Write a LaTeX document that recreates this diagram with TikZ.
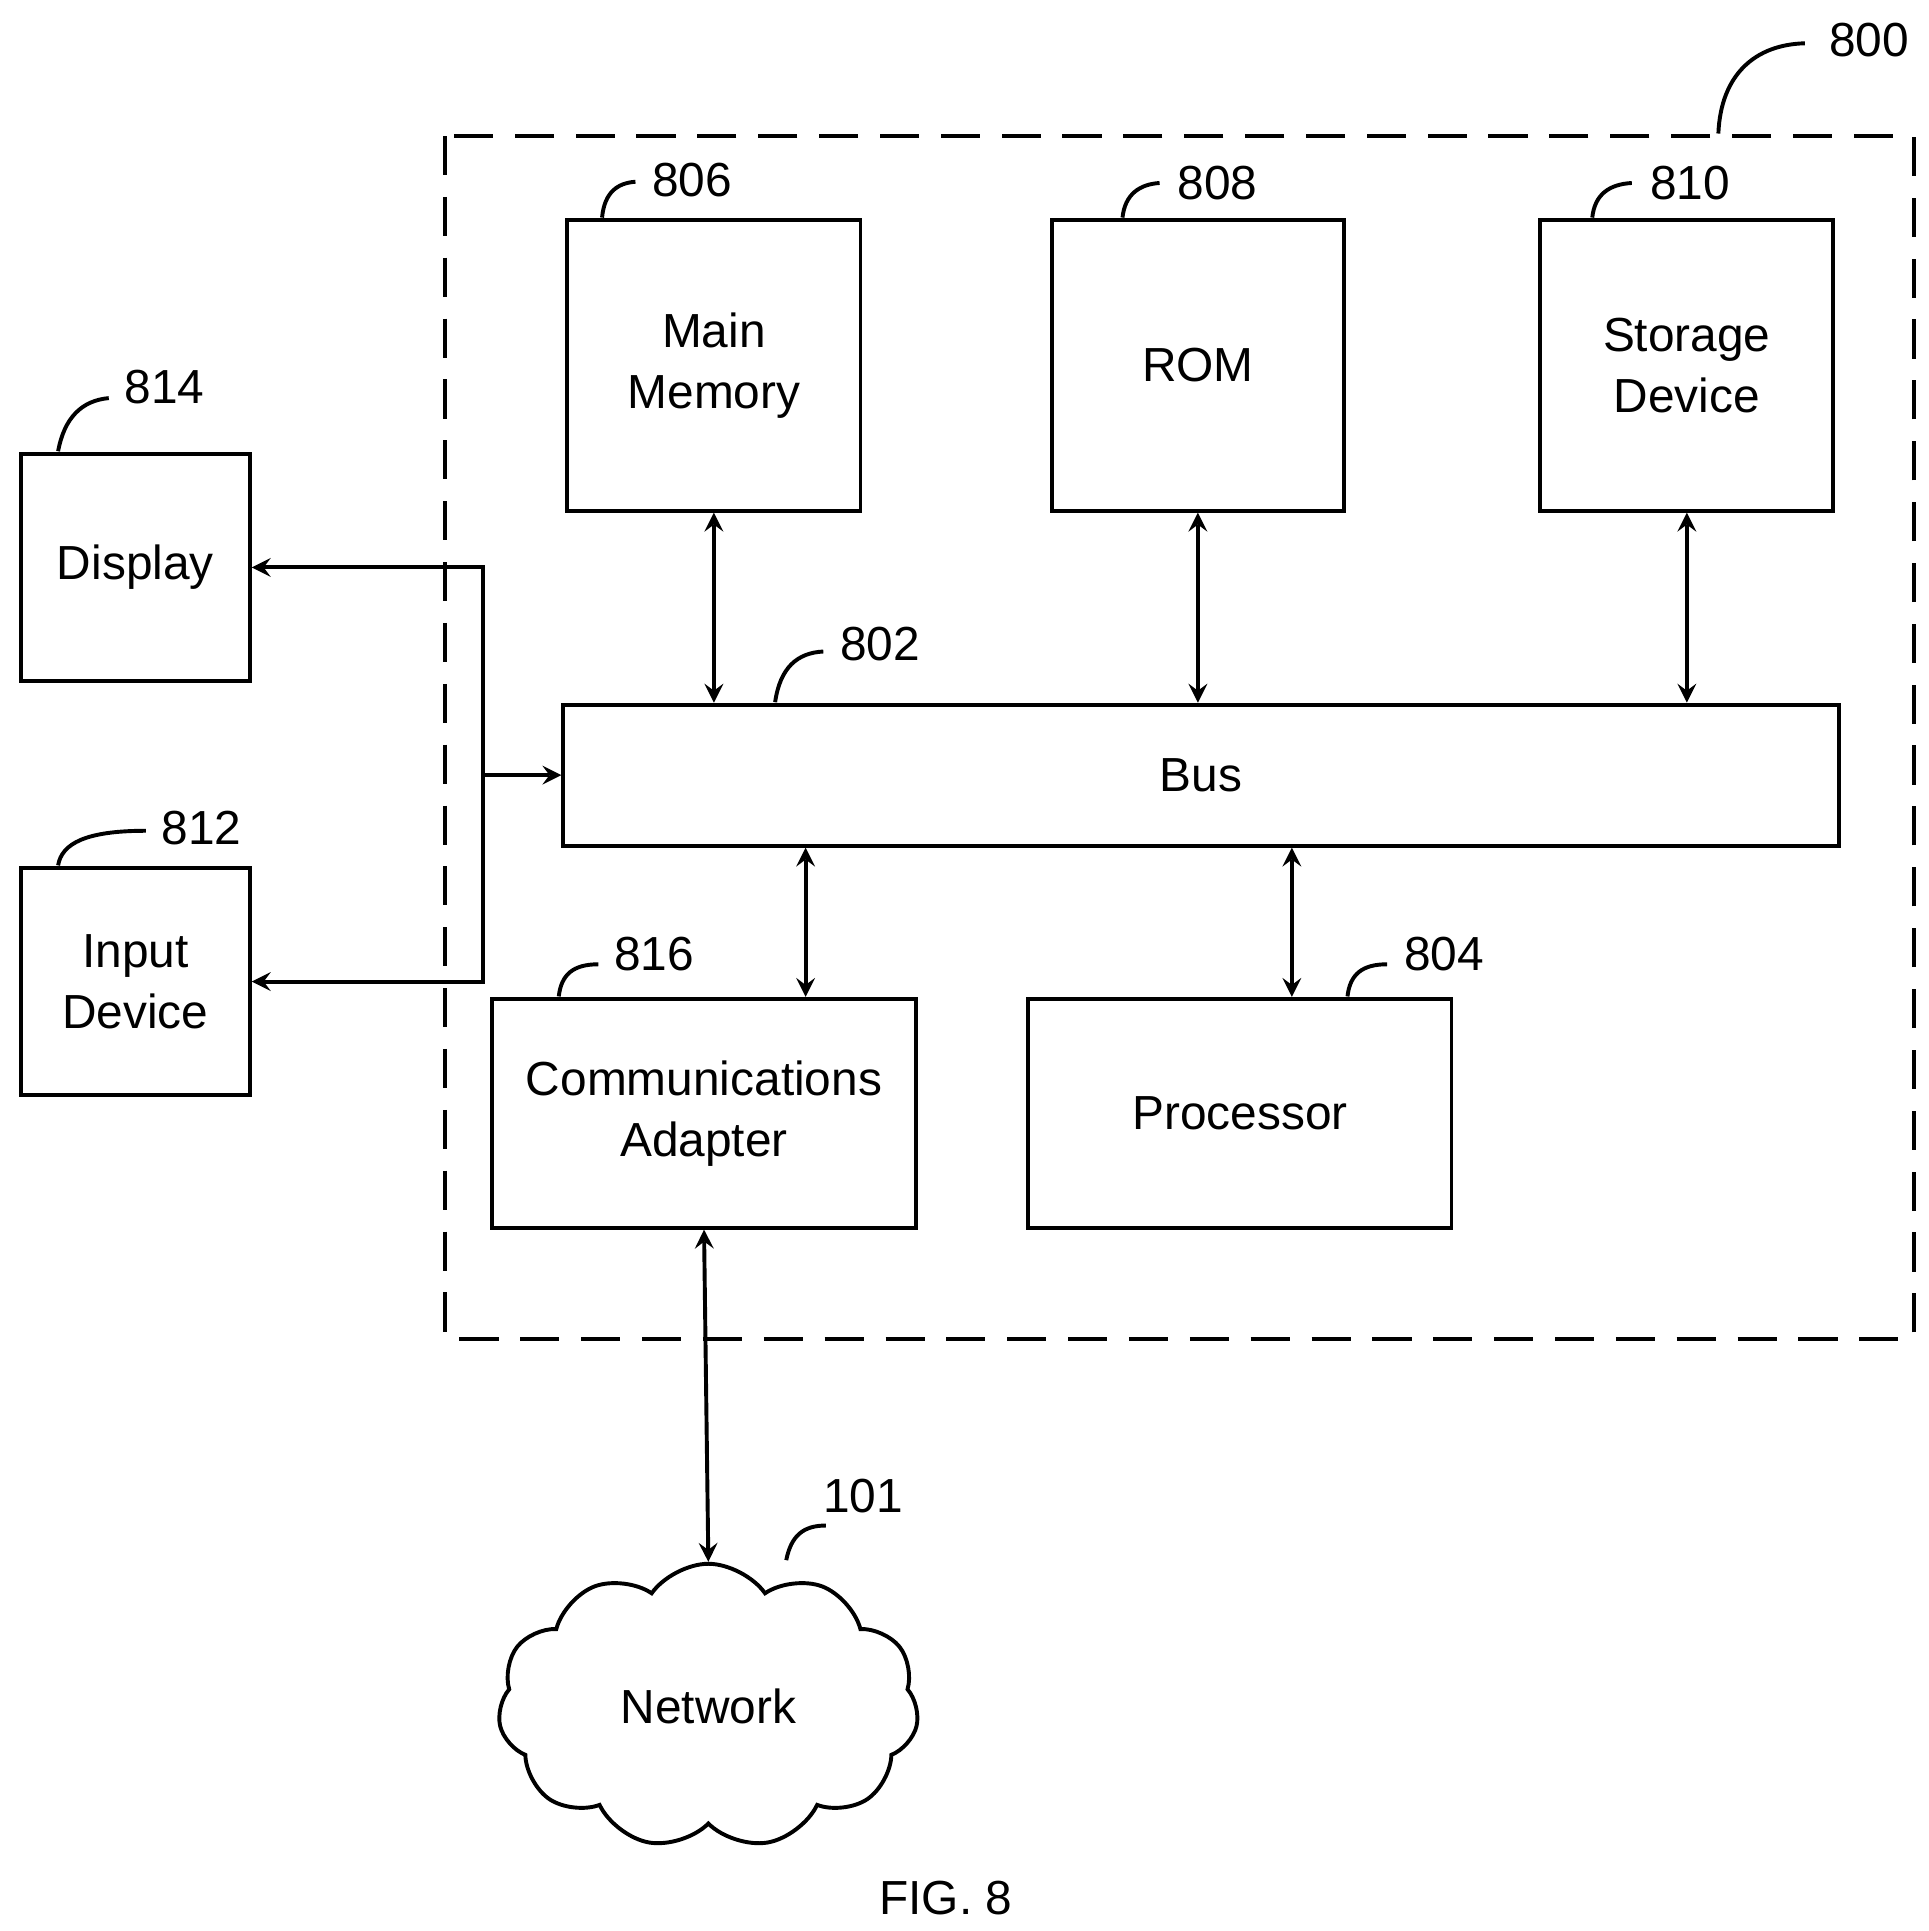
\documentclass[tikz,border=0pt]{standalone}
\usepackage{fontspec}
\setmainfont{Liberation Sans}
\usetikzlibrary{shapes.symbols}

\tikzset{
  blk/.style={draw, line width=0.9pt, align=center, font=\fontsize{11}{14}\selectfont},
  lbl/.style={font=\fontsize{11}{13}\selectfont},
  lead/.style={line width=0.9pt},
  link/.style={line width=0.9pt, <->, >=stealth},
}

\begin{document}
\begin{tikzpicture}[x=0.01cm, y=-0.01cm]
        \useasboundingbox (0,0) rectangle (1560,1562);

        \draw[line width=0.9pt, dash pattern=on 9pt off 5pt] (360,110) rectangle (1548,1083);
        \node[lbl] (n800) at (1512,32) {800};
        \draw[lead] (1390,108) .. controls (1392,60) and (1420,36) .. (1460,35);

        \node[blk, minimum width=2.37cm, minimum height=2.35cm] (mem) at (577.5,295.5) {Main\\Memory};
        \node[blk, minimum width=2.36cm, minimum height=2.35cm] (rom) at (969,295.5) {ROM};
        \node[blk, minimum width=2.37cm, minimum height=2.35cm] (sto) at (1364.5,295.5) {Storage\\Device};
        \node[blk, minimum width=10.31cm, minimum height=1.14cm] (bus) at (971.5,627) {Bus};
        \node[blk, minimum width=1.85cm, minimum height=1.84cm] (disp) at (109.5,459) {Display};
        \node[blk, minimum width=1.85cm, minimum height=1.84cm] (inp) at (109.5,794) {Input\\Device};
        \node[blk, minimum width=3.43cm, minimum height=1.85cm] (com) at (569.5,900.5) {Communications\\Adapter};
        \node[blk, minimum width=3.42cm, minimum height=1.85cm] (cpu) at (1003,900.5) {Processor};
        \node[blk, cloud, cloud puffs=11, cloud puff arc=110, aspect=1.5, minimum width=3.4cm, minimum height=2.3cm] (net) at (573,1380) {Network};

        \node[lbl] (n806) at (560,146) {806};
        \draw[lead] (487,176) .. controls (489,155) and (500,148) .. (514,147);
        \node[lbl] (n808) at (985,148) {808};
        \draw[lead] (908,176) .. controls (910,157) and (922,149) .. (938,148);
        \node[lbl] (n810) at (1367,148) {810};
        \draw[lead] (1288,176) .. controls (1290,157) and (1302,149) .. (1320,148);
        \node[lbl] (n802) at (712,521) {802};
        \draw[lead] (627,568) .. controls (631,540) and (645,528) .. (666,527);
        \node[lbl] (n814) at (133,313) {814};
        \draw[lead] (47,365) .. controls (52,338) and (66,324) .. (88,322);
        \node[lbl] (n812) at (163,670) {812};
        \draw[lead] (47,700) .. controls (50,682) and (70,672) .. (118,672);
        \node[lbl] (n816) at (529,772) {816};
        \draw[lead] (452,806) .. controls (454,788) and (464,780) .. (484,780);
        \node[lbl] (n804) at (1168,772) {804};
        \draw[lead] (1090,806) .. controls (1092,788) and (1102,780) .. (1122,780);
        \node[lbl] (n101) at (698,1210) {101};
        \draw[lead] (636,1262) .. controls (640,1242) and (650,1234) .. (668,1234);

        \draw[link] (mem.south) -- (mem.south |- bus.north);
        \draw[link] (rom.south) -- (rom.south |- bus.north);
        \draw[link] (sto.south) -- (sto.south |- bus.north);
        \draw[link] (bus.south -| com.north east) ++(-91,0) coordinate (c1) -- (c1 |- com.north);
        \draw[link] (bus.south -| cpu.north) ++(42,0) coordinate (c2) -- (c2 |- cpu.north);
        \draw[link] (com.south) -- (net.north);

        \coordinate (j) at (391,627);
        \draw[line width=0.9pt, ->, >=stealth] (j) -- (bus.west);
        \draw[line width=0.9pt, ->, >=stealth] (j) |- (disp.east);
        \draw[line width=0.9pt, ->, >=stealth] (j) |- (inp.east);

        \node[lbl] (fig) at (765,1535) {FIG. 8};
\end{tikzpicture}
\end{document}
